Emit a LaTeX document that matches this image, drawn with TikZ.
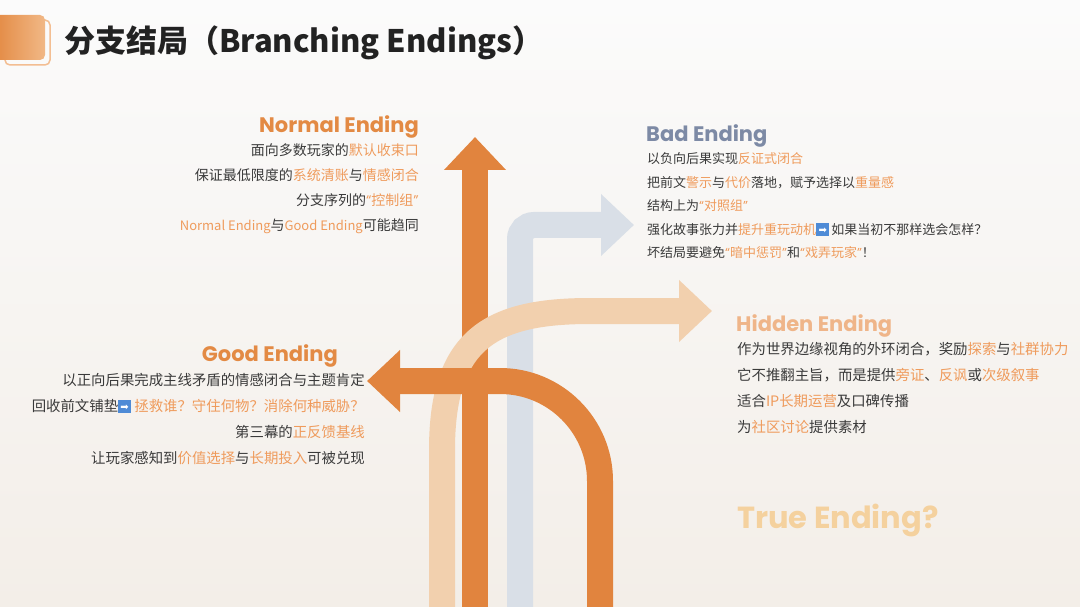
\documentclass[tikz,border=0pt]{standalone}
\usepackage{fontspec}
\setmainfont{Noto Sans CJK SC}
\newfontfamily\headfont{Poppins}
\newfontfamily\symfont{DejaVu Sans}
\usetikzlibrary{arrows.meta}
\definecolor{arrowdark}{HTML}{E1843E}
\definecolor{arrowpeach}{HTML}{F2D0AE}
\definecolor{arrowgray}{HTML}{D9DFE7}
\definecolor{headorange}{HTML}{E38A44}
\definecolor{headslate}{HTML}{7D8AA5}
\definecolor{headpeach}{HTML}{EFB589}
\definecolor{headtrue}{HTML}{F4D19E}
\definecolor{hlc}{HTML}{EF9B5C}
\definecolor{bodyc}{HTML}{3A3A3A}
\definecolor{titlec}{HTML}{222222}
\definecolor{emblue}{HTML}{4F8BD6}
\definecolor{bgtop}{HTML}{FBFBFB}
\definecolor{bgbot}{HTML}{F3EEE8}
\definecolor{boxa}{HTML}{E38942}
\definecolor{boxb}{HTML}{F1B886}
\definecolor{boxline}{HTML}{F3BE92}
\newcommand\hl[1]{\textcolor{hlc}{#1}}
\newcommand\oq{{\headfont “}}
\newcommand\cq{{\headfont ”}}
\newcommand\latin[1]{{\fontsize{13}{13}\selectfont #1}}
\newcommand\emarrow{\raisebox{-1.8pt}{\setlength\fboxsep{0pt}\colorbox{emblue}{\makebox[13pt]{\rule{0pt}{13pt}\raisebox{3pt}{\textcolor{white}{\symfont\fontsize{10}{10}\selectfont ➡}}}}}}
\begin{document}
\begin{tikzpicture}[x=1pt,y=-1pt,
  shaft/.style={line width=26pt},
  tipstyle/.style={-{Triangle[length=33pt,width=60pt]}},
  headtext/.style={inner sep=0pt, font=\headfont\bfseries\fontsize{21}{21}\selectfont},
  bodytext/.style={inner sep=0pt, text=bodyc}]
% background
\shade[top color=bgtop, bottom color=bgbot] (0,0) rectangle (1080,607);
\useasboundingbox (0,0) rectangle (1080,607);
% title badge
\draw[boxline, line width=1.5pt, rounded corners=5pt] (5,20) rectangle (50,65);
\shade[left color=boxa, right color=boxb, rounded corners=5pt] (-6,15) rectangle (45,60);
\node[anchor=base west, inner sep=0pt, text=titlec, font=\bfseries\fontsize{31}{31}\selectfont] (title) at (64,53) {分支结局（Branching Endings）};
% arrow coordinates
\coordinate (nA) at (475,607); \coordinate (nB) at (475,137);
\coordinate (gA) at (520,607); \coordinate (gC) at (520,225); \coordinate (gB) at (634,225);
\coordinate (pA) at (442,607); \coordinate (pC1) at (442,450); \coordinate (pC2) at (590,311); \coordinate (pB) at (712,311);
\coordinate (oA) at (600,607); \coordinate (oC) at (600,381); \coordinate (oB) at (367,381);
% arrows
\draw[shaft, arrowdark, tipstyle] (nA) -- (nB);
\draw[shaft, arrowgray, tipstyle, rounded corners=14pt] (gA) -- (gC) -- (gB);
\draw[shaft, arrowpeach, tipstyle] (pA) -- (pC1) .. controls (442,340) and (490,311) .. (pC2) -- (pB);
\draw[shaft, arrowdark, tipstyle, rounded corners=100pt] (oA) -- (oC) -- (oB);
% Normal Ending
\node[headtext, text=headorange, anchor=base east] (nh) at (419,133) {Normal Ending};
\begin{scope}[every node/.style={bodytext, anchor=base east, font=\fontsize{14}{14}\selectfont}]
\node (n1) at (419,155.5) {面向多数玩家的\hl{默认收束口}};
\node (n2) at (419,180.5) {保证最低限度的\hl{系统清账}与\hl{情感闭合}};
\node (n3) at (419,205.5) {分支序列的\hl{\oq 控制组\cq}};
\node (n4) at (419,231) {\hl{\latin{Normal Ending}}与\hl{\latin{Good Ending}}可能趋同};
\end{scope}
% Bad Ending
\node[headtext, text=headslate, anchor=base west] (bh) at (646,142) {Bad Ending};
\begin{scope}[every node/.style={bodytext, anchor=base west, font=\fontsize{13}{13}\selectfont}]
\node (b1) at (647,164) {以负向后果实现\hl{反证式闭合}};
\node (b2) at (647,187.5) {把前文\hl{警示}与\hl{代价}落地，赋予选择以\hl{重量感}};
\node (b3) at (647,211) {结构上为\hl{\oq 对照组\cq}};
\node (b4) at (647,234.5) {强化故事张力并\hl{提升重玩动机}\emarrow\,如果当初不那样选会怎样？};
\node (b5) at (647,258) {坏结局要避免\hl{\oq 暗中惩罚\cq}和\hl{\oq 戏弄玩家\cq}！};
\end{scope}
% Good Ending
\node[headtext, text=headorange, anchor=base east] (gh) at (338,361) {Good Ending};
\begin{scope}[every node/.style={bodytext, anchor=base east, font=\fontsize{14.4}{14.4}\selectfont}]
\node (g1) at (365,385.5) {以正向后果完成主线矛盾的情感闭合与主题肯定};
\node (g2) at (365,411.5) {回收前文铺垫\emarrow\ \hl{拯救谁？守住何物？消除何种威胁？}};
\node (g3) at (365,437.5) {第三幕的\hl{正反馈基线}};
\node (g4) at (365,463.5) {让玩家感知到\hl{价值选择}与\hl{长期投入}可被兑现};
\end{scope}
% Hidden Ending
\node[headtext, text=headpeach, anchor=base west] (hh) at (736,331) {Hidden Ending};
\begin{scope}[every node/.style={bodytext, anchor=base west, font=\fontsize{14.4}{14.4}\selectfont}]
\node (h1) at (737,354.5) {作为世界边缘视角的外环闭合，奖励\hl{探索}与\hl{社群协力}};
\node (h2) at (737,380.5) {它不推翻主旨，而是提供\hl{旁证}、\hl{反讽}或\hl{次级叙事}};
\node (h3) at (737,406.5) {适合\hl{IP长期运营}及口碑传播};
\node (h4) at (737,432.5) {为\hl{社区讨论}提供素材};
\end{scope}
% True Ending
\node[inner sep=0pt, anchor=base west, text=headtrue, font=\headfont\bfseries\fontsize{30.5}{30.5}\selectfont] (te) at (737,528) {True Ending?};
\end{tikzpicture}
\end{document}
